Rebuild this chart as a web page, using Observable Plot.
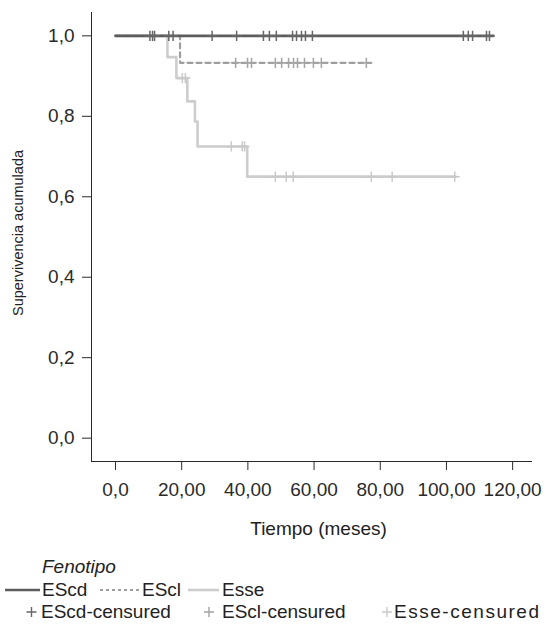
<!DOCTYPE html>
<html><head><meta charset="utf-8">
<script src="https://cdn.jsdelivr.net/npm/d3@7"></script>
<script src="https://cdn.jsdelivr.net/npm/@observablehq/plot@0.6"></script>
<style>
body{margin:0;background:#fff;font-family:"Liberation Sans",Arial,Helvetica,sans-serif;color:#222;}
#chart{width:547px;}
#chart svg{display:block;}
</style>
</head><body><div id="chart"></div>
<script>
// ---- data ----
const groups = ["EScd", "EScl", "Esse"];
const lineColors = ["#5c5c5c", "#9e9e9e", "#cdcdcd"];
const censorColors = ["#666666", "#a4a4a4", "#c9c9c9"];

const escdTimes = [0, 114.2];
const escdSurv = [1, 1];
const esclTimes = [0, 19.5, 77.3];
const esclSurv = [1, 0.933, 0.933];
const esseTimes = [0, 15.7, 18.4, 21.7, 24.0, 24.8, 39.8, 102.8];
const esseSurv = [1, 0.947, 0.895, 0.837, 0.787, 0.725, 0.650, 0.650];

const escdCensTimes = [10.4, 11.2, 11.8, 16.1, 17.4, 29.2, 36.6, 44.7, 46.5, 48.6, 53.5, 54.7, 56.2, 57.4, 59.5, 105.1, 106.6, 107.9, 112.1, 113.0];
const escdCensSurv = escdCensTimes.map(() => 1);
const esclCensTimes = [36.3, 39.9, 41.1, 48.3, 50.2, 52.3, 53.8, 55.0, 57.1, 59.8, 62.2, 75.8];
const esclCensSurv = esclCensTimes.map(() => 0.933);
const esseCensTimes = [20.2, 21.1, 35.0, 38.3, 39.0, 48.3, 51.6, 53.7, 77.3, 83.6, 102.5];
const esseCensSurv = [0.895, 0.895, 0.725, 0.725, 0.725, 0.650, 0.650, 0.650, 0.650, 0.650, 0.650];

const xTicks = [0, 20, 40, 60, 80, 100, 120];
const xTickLabels = ["0,0", "20,00", "40,00", "60,00", "80,00", "100,00", "120,00"];
const yTicks = [0, 0.2, 0.4, 0.6, 0.8, 1.0];
const yTickLabels = ["0,0", "0,2", "0,4", "0,6", "0,8", "1,0"];

const xLabel = "Tiempo (meses)";
const yLabel = "Supervivencia acumulada";
const legendTitle = "Fenotipo";
const censorLabels = ["EScd-censured", "EScl-censured", "Esse-censured"];

// ---- build tables ----
const lineSets = [[escdTimes, escdSurv], [esclTimes, esclSurv], [esseTimes, esseSurv]];
const censSets = [[escdCensTimes, escdCensSurv], [esclCensTimes, esclCensSurv], [esseCensTimes, esseCensSurv]];
const lineData = lineSets.map(([t, s]) => t.map((v, i) => ({t: v, s: s[i]})));
const censData = censSets.map(([t, s]) => t.map((v, i) => ({t: v, s: s[i]})));
const dashes = [null, "5,4", null];
const widths = [2.6, 2.2, 2.6];

const marks = [];
[2, 1, 0].forEach(g => {
  marks.push(Plot.line(lineData[g], {x: "t", y: "s", curve: "step-after", stroke: lineColors[g], strokeWidth: widths[g], strokeDasharray: dashes[g]}));
  marks.push(Plot.dot(censData[g], {x: "t", y: "s", symbol: "plus", r: 3.4, stroke: censorColors[g], strokeWidth: 1.5}));
});
marks.push(Plot.text([xLabel], {frameAnchor: "bottom", lineAnchor: "middle", textAnchor: "middle", dy: 67, dx: 7, fontSize: 19, fill: "#222"}));
marks.push(Plot.text([yLabel], {frameAnchor: "left", lineAnchor: "middle", textAnchor: "middle", rotate: -90, dx: -73, dy: -4, fontSize: 14.5, fill: "#222"}));

const chart = Plot.plot({
  width: 547,
  height: 550,
  marginTop: 12,
  marginBottom: 89,
  marginLeft: 91,
  marginRight: 16,
  style: {fontSize: "19px", fontFamily: '"Liberation Sans", Arial, sans-serif', color: "#2a2a2a", background: "#fff"},
  x: {domain: [-7.25, 125.7], ticks: xTicks, tickFormat: d => xTickLabels[xTicks.indexOf(d)], tickSize: 9, tickPadding: 12, label: null, line: true},
  y: {domain: [-0.058, 1.058], ticks: yTicks, tickFormat: d => yTickLabels[yTicks.findIndex(v => Math.abs(v - d) < 1e-9)], tickSize: 9, tickPadding: 8, label: null, line: true},
  marks
});
document.getElementById("chart").appendChild(chart);

// ---- legend ----
const leg = d3.select("#chart").append("svg").attr("width", 547).attr("height", 77)
  .style("font-family", '"Liberation Sans", Arial, sans-serif').style("font-size", "19px");
leg.append("text").attr("x", 42).attr("y", 23).attr("font-style", "italic").attr("fill", "#222").text(legendTitle);
const row1 = [{x1: 5, x2: 40, tx: 42}, {x1: 100, x2: 140, tx: 142}, {x1: 188, x2: 219, tx: 222}];
row1.forEach((p, g) => {
  leg.append("line").attr("x1", p.x1).attr("x2", p.x2).attr("y1", 40).attr("y2", 40)
    .attr("stroke", lineColors[g]).attr("stroke-width", widths[g]).attr("stroke-dasharray", g === 1 ? "3,3" : null);
  leg.append("text").attr("x", p.tx).attr("y", 46).attr("fill", "#222").text(groups[g]);
});
const row2 = [{px: 31.5, tx: 41, len: null}, {px: 209, tx: 222, len: null}, {px: 387, tx: 394, len: 145}];
row2.forEach((p, g) => {
  leg.append("path").attr("d", `M${p.px - 5},62H${p.px + 5}M${p.px},57V67`).attr("stroke", censorColors[g]).attr("stroke-width", 1.4).attr("fill", "none");
  const t = leg.append("text").attr("x", p.tx).attr("y", 68).attr("fill", "#222").text(censorLabels[g]);
  if (p.len) t.attr("textLength", p.len).attr("lengthAdjust", "spacing");
});
</script>
</body></html>
